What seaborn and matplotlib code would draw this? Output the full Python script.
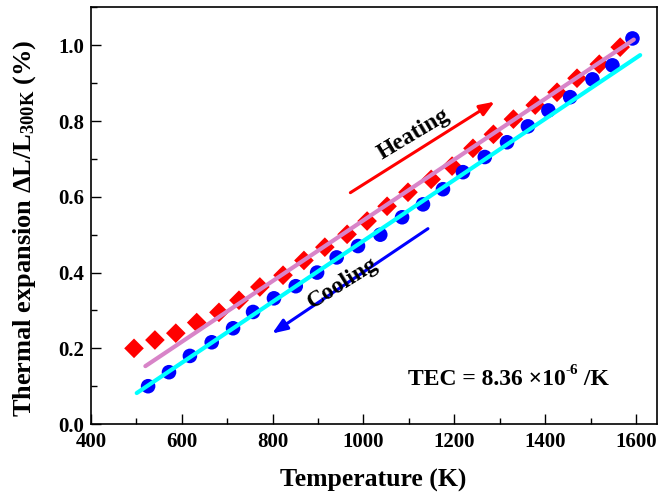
import matplotlib
matplotlib.use("Agg")
import matplotlib.pyplot as plt
import seaborn as sns
import pandas as pd
from matplotlib.ticker import MultipleLocator

# ---- data ----
heat_T = [495, 541, 587, 633, 682, 726, 772, 823, 869, 915, 964, 1008,
          1052, 1098, 1149, 1195, 1241, 1286, 1330, 1378, 1426, 1470, 1519, 1565]
heat_v = [0.200, 0.222, 0.240, 0.268, 0.295, 0.327, 0.362, 0.393, 0.432, 0.467,
          0.501, 0.536, 0.575, 0.612, 0.646, 0.681, 0.728, 0.765, 0.805, 0.842,
          0.876, 0.913, 0.950, 0.995]
cool_T = [526, 572, 618, 666, 713, 757, 803, 851, 898, 941, 988, 1037,
          1085, 1131, 1175, 1219, 1267, 1316, 1362, 1407, 1455, 1504, 1548, 1592]
cool_v = [0.100, 0.137, 0.180, 0.216, 0.253, 0.296, 0.332, 0.364, 0.400, 0.440,
          0.470, 0.500, 0.546, 0.580, 0.620, 0.665, 0.705, 0.744, 0.786, 0.828,
          0.863, 0.910, 0.947, 1.018]
fit_heat_T = [520, 1595]
fit_heat_v = [0.153, 1.015]
fit_cool_T = [501, 1609]
fit_cool_v = [0.082, 0.974]
x_ticks = [400, 600, 800, 1000, 1200, 1400, 1600]
y_ticks = [0.0, 0.2, 0.4, 0.6, 0.8, 1.0]

sns.set_style("ticks")
plt.rcParams["font.family"] = ["Liberation Serif", "DejaVu Serif"]
plt.rcParams["font.weight"] = "bold"
plt.rcParams["mathtext.fontset"] = "custom"
plt.rcParams["mathtext.rm"] = "Liberation Serif:bold"
plt.rcParams["mathtext.bf"] = "Liberation Serif:bold"
plt.rcParams["mathtext.it"] = "Liberation Serif:bold"
for k in ["text.color", "axes.labelcolor", "xtick.color", "ytick.color"]:
    plt.rcParams[k] = "black"

fig = plt.figure(figsize=(6.68, 4.92), dpi=100)
ax = fig.add_axes([0.136, 0.138, 0.8475, 0.847])

df_h = pd.DataFrame({"T": heat_T, "v": heat_v})
df_c = pd.DataFrame({"T": cool_T, "v": cool_v})
df_fh = pd.DataFrame({"T": fit_heat_T, "v": fit_heat_v})
df_fc = pd.DataFrame({"T": fit_cool_T, "v": fit_cool_v})

sns.scatterplot(data=df_h, x="T", y="v", marker="D", s=100, color="#FF0000",
                edgecolor="none", ax=ax, zorder=2)
sns.scatterplot(data=df_c, x="T", y="v", marker="o", s=110, color="#0000FF",
                edgecolor="none", ax=ax, zorder=2)
sns.lineplot(data=df_fh, x="T", y="v", color="#D884C8", lw=3, ax=ax, zorder=3)
sns.lineplot(data=df_fc, x="T", y="v", color="#00FFFF", lw=3, ax=ax, zorder=3)

# arrows
ax.annotate("", xy=(1294, 0.855), xytext=(966, 0.607),
            arrowprops=dict(arrowstyle="-|>,head_length=0.9,head_width=0.35",
                            color="#FF0000", lw=2.2))
ax.annotate("", xy=(794, 0.235), xytext=(1147, 0.52),
            arrowprops=dict(arrowstyle="-|>,head_length=0.9,head_width=0.35",
                            color="#0000FF", lw=2.2))
ax.text(1111, 0.765, "Heating", rotation=31, ha="center", va="center",
        fontsize=17, fontweight="bold")
ax.text(955, 0.372, "Cooling", rotation=32, ha="center", va="center",
        fontsize=17, fontweight="bold")

t1 = ax.text(1098, 0.119, "TEC = 8.36 \u00d710", ha="left", va="center",
             fontsize=17, fontweight="bold")
t2 = ax.annotate("-6", xy=(1.0, 0.62), xycoords=t1, ha="left", va="bottom",
                 fontsize=11, fontweight="bold")
ax.annotate(" /K", xy=(1.0, 0.0), xycoords=(t2, t1), ha="left", va="bottom",
            fontsize=17, fontweight="bold")

ax.set_xlim(400, 1646)
ax.set_ylim(0.0, 1.1)
ax.set_xticks(x_ticks)
ax.set_yticks(y_ticks)
ax.set_yticklabels([f"{v:.1f}" for v in y_ticks])
ax.xaxis.set_minor_locator(MultipleLocator(100))
ax.yaxis.set_minor_locator(MultipleLocator(0.1))
ax.tick_params(which="both", direction="in", top=False, right=False,
               labelsize=15, width=1)
ax.tick_params(axis="x", which="major", pad=6)
ax.tick_params(axis="y", which="major", pad=5)
ax.tick_params(which="major", length=7)
ax.tick_params(which="minor", length=4)
for lbl in ax.get_xticklabels() + ax.get_yticklabels():
    lbl.set_fontweight("bold")
for sp in ax.spines.values():
    sp.set_visible(True)
    sp.set_linewidth(1.2)
    sp.set_color("black")

ax.set_xlabel("Temperature (K)", fontsize=18.5, fontweight="bold")
ax.set_ylabel(r"Thermal expansion $\Delta$L/L$_{\mathrm{300K}}$ (%)",
              fontsize=19, fontweight="bold")
ax.xaxis.set_label_coords(0.498, -0.108)
ax.yaxis.set_label_coords(-0.094, 0.47)

fig.savefig("out.png", dpi=100)
